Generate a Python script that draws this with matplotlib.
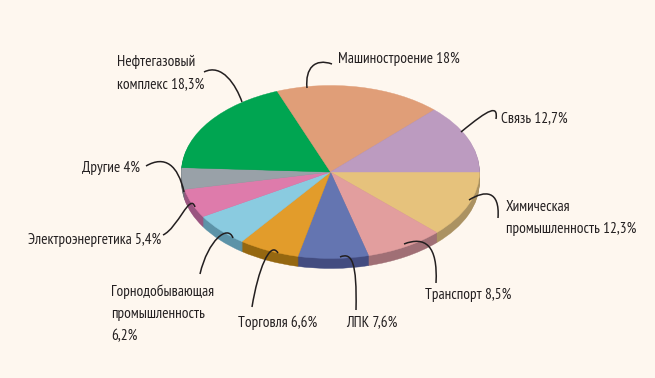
import numpy as np
import matplotlib
matplotlib.use('Agg')
import matplotlib.pyplot as plt
from matplotlib.path import Path
from matplotlib.patches import PathPatch

plt.rcParams['font.family'] = ['PT Sans Narrow', 'Roboto Condensed', 'Liberation Sans', 'DejaVu Sans']

# clockwise, starting from the right edge of the pie
labels = ['Химическая\nпромышленность 12,3%', 'Транспорт 8,5%', 'ЛПК 7,6%', 'Торговля 6,6%',
          'Горнодобывающая\nпромышленность\n6,2%', 'Электроэнергетика 5,4%', 'Другие 4%',
          'Нефтегазовый\nкомплекс 18,3%', 'Машиностроение 18%', 'Связь 12,7%']
values = [12.3, 8.5, 7.6, 6.6, 6.2, 5.4, 4.0, 18.3, 18.0, 12.7]
top_colors = ['#E6C27C', '#E29E9E', '#6475B1', '#E29C2B', '#8ACBE0',
              '#DE7BAB', '#99A1A8', '#00A551', '#E09E78', '#BC9BC0']
side_colors = ['#AB9262', '#A06F75', '#434C80', '#956710', '#5C93A8',
               '#9A5580', '#6D7378', '#00703A', '#A0705A', '#86708A']

# label anchors (left x, centre y) in pixels
label_pos = [(506, 218), (425, 295), (346, 323), (238, 323), (111, 314),
             (28, 240), (82, 168), (117, 73), (338, 59), (501, 118)]

# leader curves in pixels: start, two controls, end
leaders = [
    [(498, 218), (500, 190), (485, 190), (469, 200)],
    [(436, 283), (438, 245), (425, 236), (404, 244)],
    [(356, 310), (357, 262), (352, 252), (340, 257)],
    [(252, 307), (258, 270), (270, 240), (278, 253)],
    [(200, 274), (208, 240), (228, 224), (233, 238)],
    [(163, 235), (178, 228), (190, 192), (195, 207)],
    [(146, 166), (165, 155), (178, 165), (184, 192)],
    [(204, 72), (222, 63), (236, 85), (242, 102)],
    [(332, 64), (315, 58), (305, 68), (307, 88)],
    [(496, 119), (498, 105), (490, 108), (461, 132)],
]

bg = '#FEF7EF'
W, H = 655, 378
cx, cy, rx, ry, depth = 330.5, 172, 149, 86.5, 10

fig = plt.figure(figsize=(W / 100, H / 100), dpi=100, facecolor=bg)
ax = fig.add_axes([0, 0, 1, 1])

# side of the disc first, then the top face
for off in np.arange(depth, -1, -1):
    cols = top_colors if off == 0 else side_colors
    wedges, _ = ax.pie(values, colors=cols, startangle=0, counterclock=False, center=(0, -off / ry))
    for w in wedges:
        w.set_edgecolor(w.get_facecolor())
        w.set_linewidth(0.3)

ax.set_aspect('auto')
ax.set_xlim(-cx / rx, (W - cx) / rx)
ax.set_ylim(-(H - cy) / ry, cy / ry)
ax.axis('off')

# overlay in pixel coordinates for the callouts
over = fig.add_axes([0, 0, 1, 1])
over.set_xlim(0, W)
over.set_ylim(H, 0)
over.axis('off')
over.patch.set_alpha(0)

codes = [Path.MOVETO, Path.CURVE4, Path.CURVE4, Path.CURVE4]
for pts in leaders:
    over.add_patch(PathPatch(Path(pts, codes), fill=False, edgecolor='#231F20', linewidth=1.1))

for txt, (x, y) in zip(labels, label_pos):
    over.text(x, y, txt, ha='left', va='center', fontsize=11, color='#231F20', linespacing=1.72)

fig.savefig('out.png', dpi=100, facecolor=bg)
